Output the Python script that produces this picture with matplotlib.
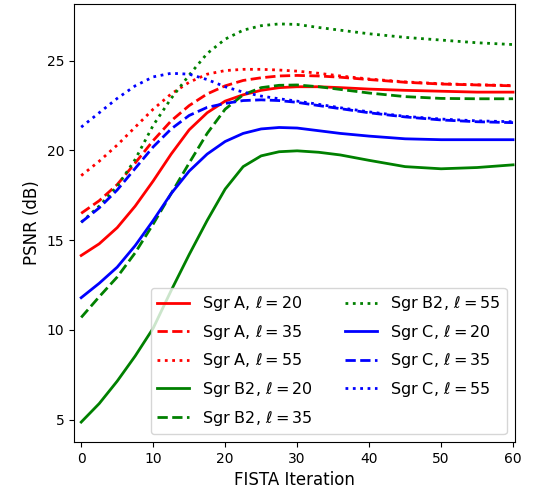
import matplotlib
matplotlib.use("Agg")
import matplotlib.pyplot as plt

# iteration grid the values were read at
iters = [0, 2.5, 5, 7.5, 10, 12.5, 15, 17.5, 20, 22.5, 25, 27.5, 30, 33, 36, 40, 45, 50, 55, 60]

# PSNR (dB) per source / ell
sgra_20 = [14.15, 14.8, 15.7, 16.9, 18.3, 19.8, 21.15, 22.1, 22.75, 23.1, 23.35, 23.5, 23.55, 23.55, 23.5, 23.42, 23.35, 23.3, 23.25, 23.25]
sgra_35 = [16.5, 17.2, 18.1, 19.3, 20.55, 21.65, 22.5, 23.15, 23.6, 23.9, 24.05, 24.15, 24.18, 24.15, 24.08, 23.95, 23.8, 23.7, 23.65, 23.6]
sgra_55 = [18.6, 19.4, 20.3, 21.3, 22.3, 23.15, 23.8, 24.25, 24.45, 24.52, 24.52, 24.48, 24.42, 24.3, 24.15, 23.98, 23.82, 23.72, 23.66, 23.62]
sgrb2_20 = [4.87, 5.9, 7.15, 8.55, 10.1, 12.2, 14.2, 16.1, 17.85, 19.1, 19.7, 19.93, 19.98, 19.9, 19.75, 19.45, 19.1, 18.98, 19.05, 19.2]
sgrb2_35 = [10.7, 11.85, 12.95, 14.3, 15.9, 17.6, 19.3, 20.95, 22.3, 23.1, 23.5, 23.63, 23.65, 23.55, 23.4, 23.2, 23.0, 22.9, 22.88, 22.88]
sgrb2_55 = [16.0, 16.9, 18.0, 19.5, 21.4, 22.9, 24.2, 25.4, 26.2, 26.7, 26.95, 27.05, 27.02, 26.85, 26.7, 26.5, 26.3, 26.15, 26.0, 25.9]
sgrc_20 = [11.8, 12.6, 13.5, 14.7, 16.1, 17.6, 18.85, 19.8, 20.5, 20.95, 21.2, 21.28, 21.25, 21.1, 20.95, 20.8, 20.65, 20.6, 20.6, 20.6]
sgrc_35 = [16.0, 16.8, 17.8, 19.0, 20.2, 21.2, 21.95, 22.4, 22.62, 22.78, 22.82, 22.78, 22.68, 22.5, 22.33, 22.1, 21.87, 21.7, 21.6, 21.55]
sgrc_55 = [21.3, 22.1, 22.9, 23.6, 24.1, 24.3, 24.25, 23.95, 23.55, 23.25, 23.03, 22.88, 22.75, 22.57, 22.38, 22.15, 21.9, 21.75, 21.65, 21.6]

sources = ["Sgr A", "Sgr B2", "Sgr C"]
ells = [20, 35, 55]
series = [[sgra_20, sgra_35, sgra_55],
          [sgrb2_20, sgrb2_35, sgrb2_55],
          [sgrc_20, sgrc_35, sgrc_55]]
colors = ["red", "green", "blue"]
styles = ["-", "--", ":"]

fig = plt.figure(figsize=(5.37, 4.99), dpi=100)
ax = fig.add_axes([74/537, 1 - 442/499, (514.5 - 74)/537, (442 - 4)/499])

for src, col, vals in zip(sources, colors, series):
    for ell, ls, y in zip(ells, styles, vals):
        ax.plot(iters, y, color=col, ls=ls, lw=2, label=src + r", $\ell=%d$" % ell)

ax.set_xlim(-1, 60.2)
ax.set_xticks([0, 10, 20, 30, 40, 50, 60])
ax.set_yticks([5, 10, 15, 20, 25])
ax.set_xlabel("FISTA Iteration", fontsize=12)
ax.set_ylabel("PSNR (dB)", fontsize=12)
ax.legend(loc="lower right", ncol=2, fontsize=11.5, labelspacing=0.6)

fig.savefig("out.png", dpi=100)
